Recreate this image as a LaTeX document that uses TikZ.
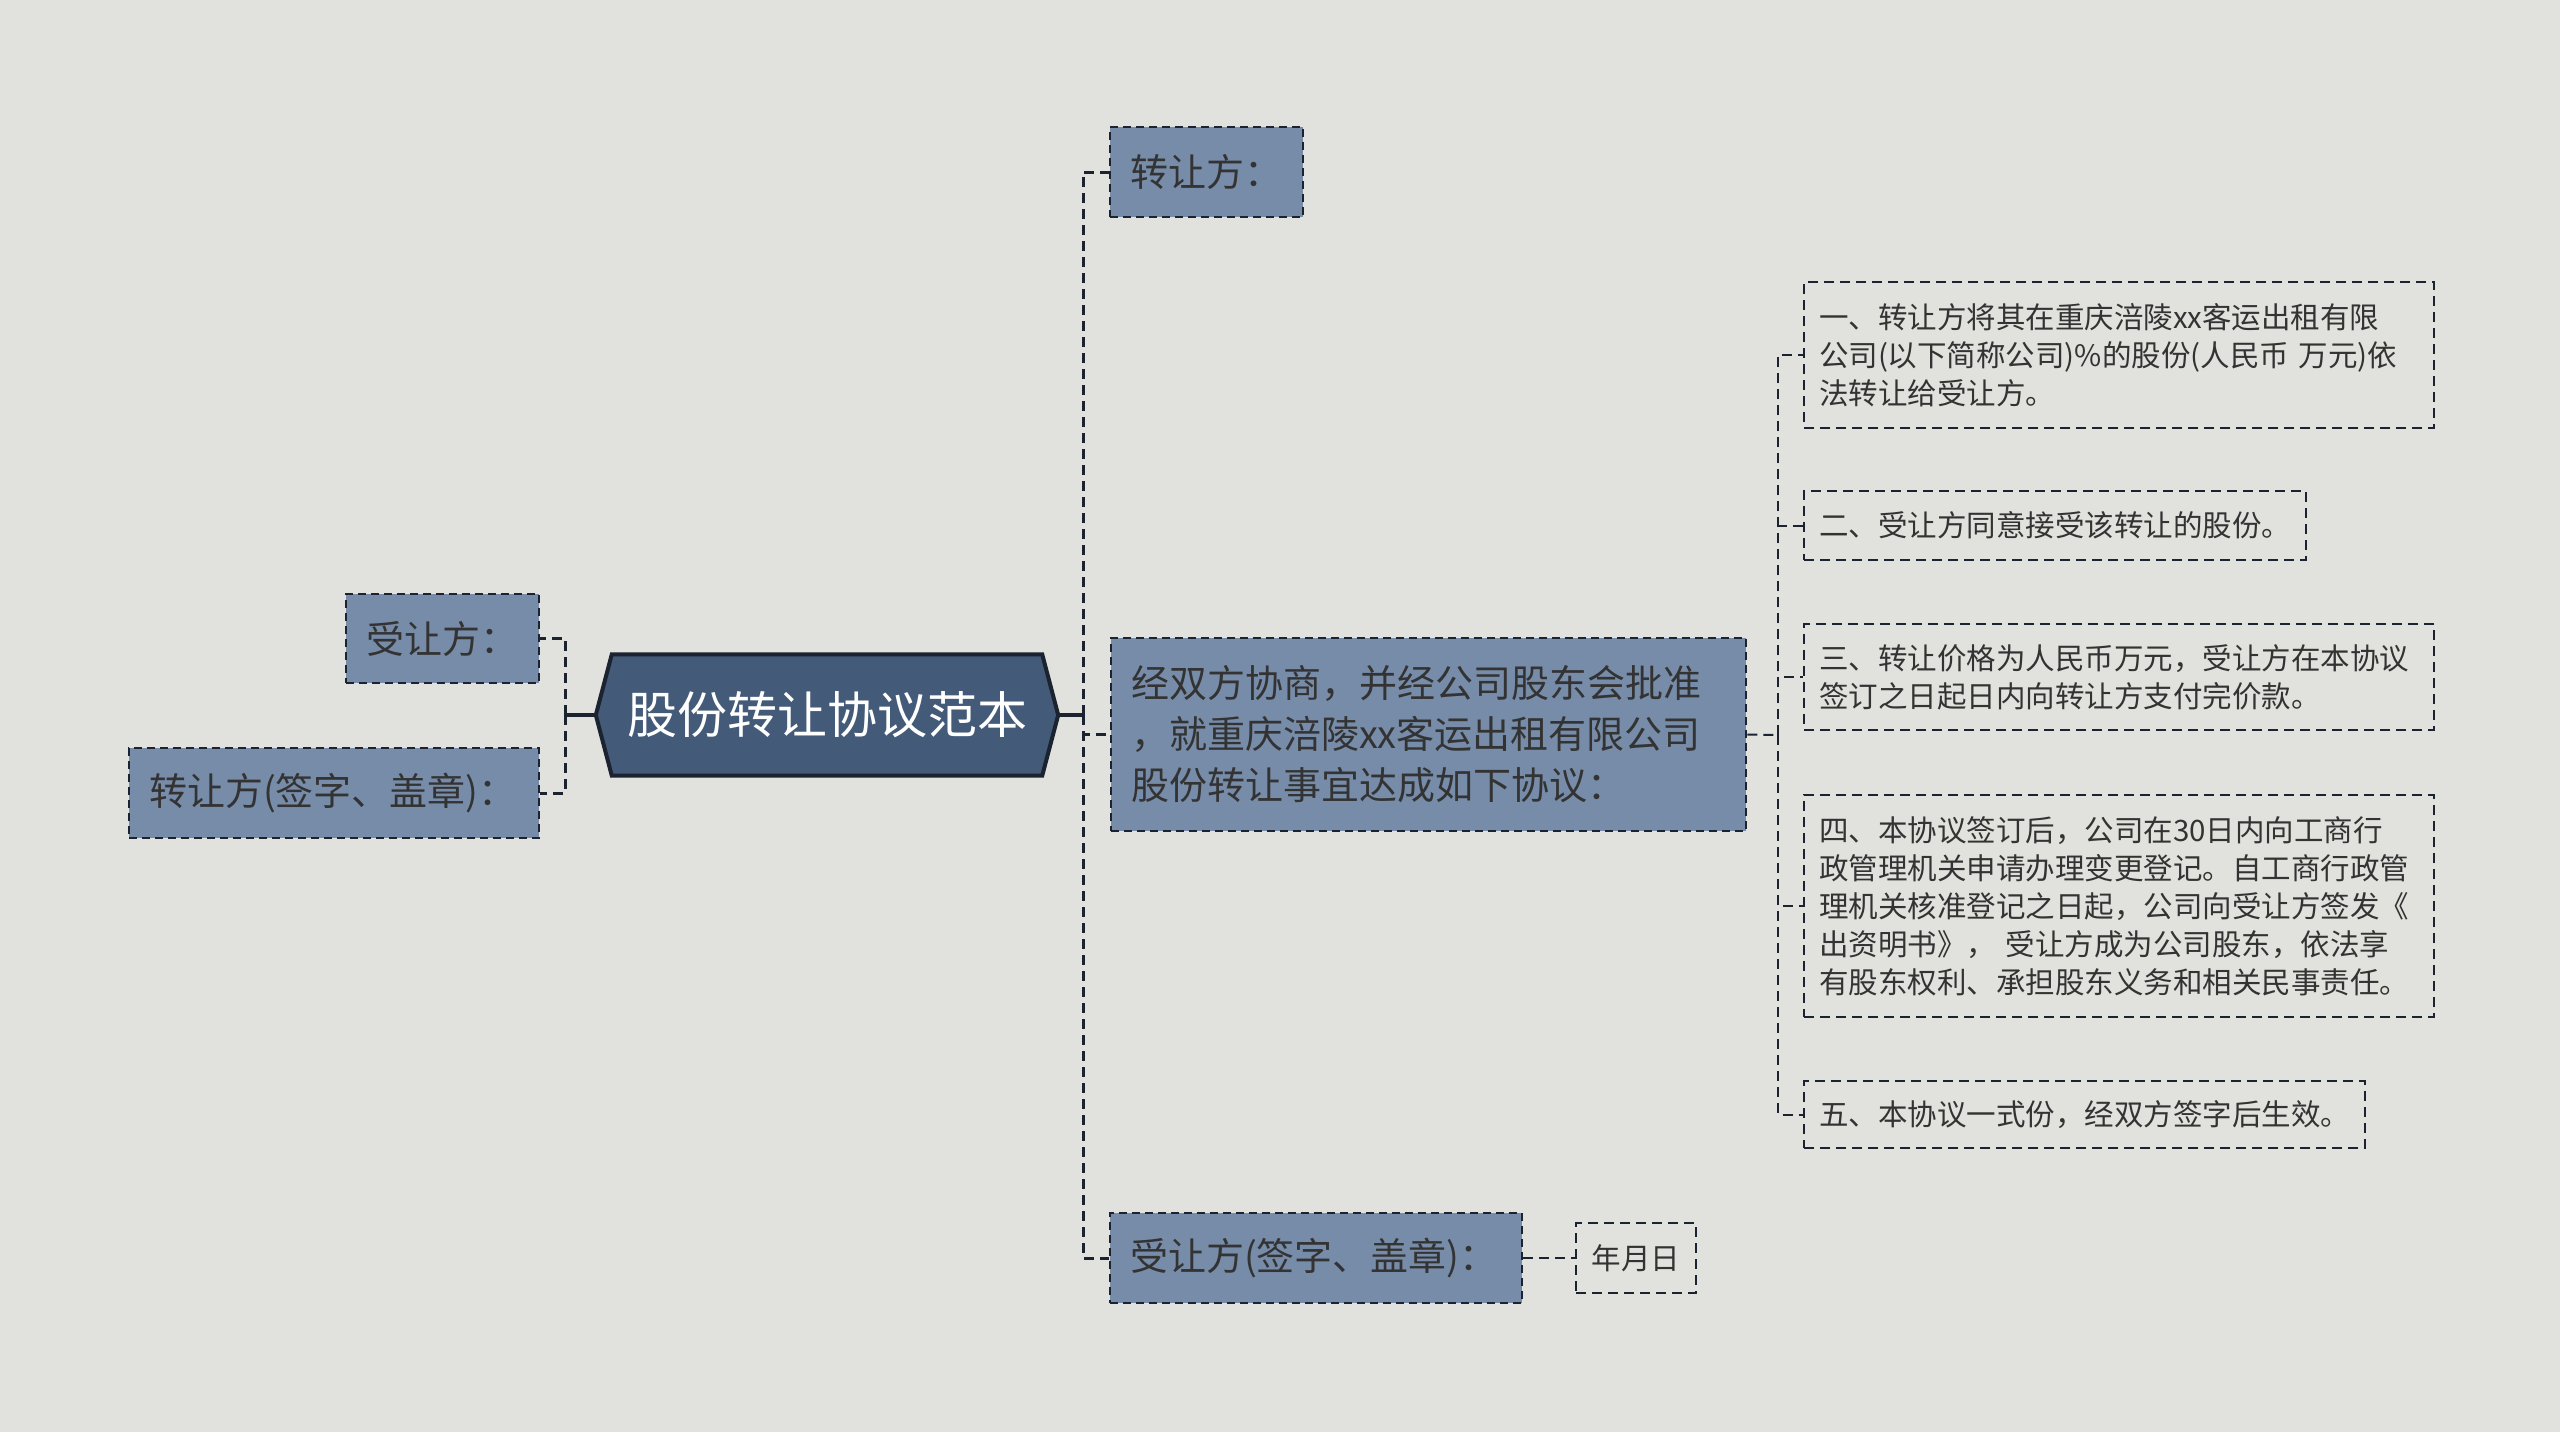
\documentclass[tikz,border=0pt]{standalone}
\usepackage{fontspec}
\newfontfamily\cjk{Noto Sans CJK SC}
\usepackage{tikz}
\usetikzlibrary{backgrounds}
\definecolor{pagebg}{HTML}{E1E2DD}
\definecolor{boxfill}{HTML}{778CA9}
\definecolor{rootfill}{HTML}{435A78}
\definecolor{linecol}{HTML}{1B2331}
\definecolor{txt}{HTML}{333333}

\begin{document}
\begin{tikzpicture}[x=1pt,y=-1pt]
	\tikzstyle{racine}=[rectangle,minimum width=462pt,minimum height=121pt,inner sep=0pt,text=white,font=\cjk\fontsize{50}{60}\selectfont]
	\tikzstyle{hexa}=[draw=linecol,line width=4pt,fill=rootfill,line join=miter]
	\tikzstyle{branche}=[rectangle,draw=linecol,line width=2.5pt,dash pattern=on 8pt off 5pt,fill=boxfill,text=txt,inner xsep=20pt,inner ysep=0pt,align=left,font=\cjk\fontsize{38}{51}\selectfont]
	\tikzstyle{feuille}=[rectangle,draw=linecol,line width=2pt,dash pattern=on 10pt off 6pt,text=txt,inner xsep=15pt,inner ysep=0pt,align=left,anchor=west,font=\cjk\fontsize{29.5}{38}\selectfont]
	\tikzstyle{lien}=[draw=linecol,line width=3pt,dash pattern=on 10pt off 6pt]
	\tikzstyle{lienfin}=[draw=linecol,line width=2pt,dash pattern=on 10pt off 6pt]
	\tikzstyle{tige}=[draw=linecol,line width=3.5pt]

	\begin{scope}[on background layer]
		\fill[pagebg] (0,0) rectangle (2560,1432);
	\end{scope}
	\useasboundingbox (0,0) rectangle (2560,1432);

	% centre
	\node[racine] (root) at (827,715) {股份转让协议范本};
	\begin{scope}[on background layer]
		\draw[hexa] (root.west) -- ([xshift=16pt]root.north west) -- ([xshift=-16pt]root.north east)
			-- (root.east) -- ([xshift=-16pt]root.south east) -- ([xshift=16pt]root.south west) -- cycle;
	\end{scope}

	% gauche
	\node[branche,text width=153pt,minimum height=89pt] (lb1) at (442.5,638.5) {受让方：};
	\node[branche,text width=370pt,minimum height=90pt] (lb2) at (334,793) {转让方(签字、盖章)：};

	% droite
	\node[branche,text width=153pt,minimum height=90pt] (rb1) at (1206.5,172) {转让方：};
	\node[branche,text width=595pt,minimum height=193pt] (rb2) at (1428.5,734.5) {经双方协商，并经公司股东会批准\\，就重庆涪陵xx客运出租有限公司\\股份转让事宜达成如下协议：};
	\node[branche,text width=372pt,minimum height=90pt] (rb3) at (1316,1258) {受让方(签字、盖章)：};
	\node[feuille,anchor=center,minimum width=120pt,minimum height=70pt,align=center] (date) at (1636,1258) {年月日};

	% articles
	\node[feuille,text width=600pt,minimum height=146pt] (it1) at (1803,355) {一、转让方将其在重庆涪陵xx客运出租有限\\公司(以下简称公司)\%的股份(人民币 万元)依\\法转让给受让方。};
	\node[feuille,minimum height=69pt] (it2) at (1803,525.5) {二、受让方同意接受该转让的股份。};
	\node[feuille,text width=600pt,minimum height=106pt] (it3) at (1803,677) {三、转让价格为人民币万元，受让方在本协议\\签订之日起日内向转让方支付完价款。};
	\node[feuille,text width=600pt,minimum height=222pt] (it4) at (1803,906) {四、本协议签订后，公司在30日内向工商行\\政管理机关申请办理变更登记。自工商行政管\\理机关核准登记之日起，公司向受让方签发《\\出资明书》， 受让方成为公司股东，依法享\\有股东权利、承担股东义务和相关民事责任。};
	\node[feuille,minimum height=67pt] (it5) at (1803,1114.5) {五、本协议一式份，经双方签字后生效。};

	% liens
	\coordinate (lj) at (565,715);
	\coordinate (rj) at (1083,715);
	\coordinate (ij) at (1778,735);
	\draw[tige] (root.west) -- (lj);
	\draw[tige] (root.east) -- (rj);
	\draw[lien] (lj) |- (lb1.east);
	\draw[lien] (lj) |- (lb2.east);
	\draw[lien] (rj) |- (rb1.west);
	\draw[lien] (rj) |- (rb2.west);
	\draw[lien] (rj) |- (rb3.west);
	\draw[lienfin] (rb3.east) -- (date.west);
	\draw[lienfin] (rb2.east) -- (ij);
	\foreach \i in {it1,it2,it3,it4,it5}
		\draw[lienfin] (ij) |- (\i.west);
\end{tikzpicture}
\end{document}
